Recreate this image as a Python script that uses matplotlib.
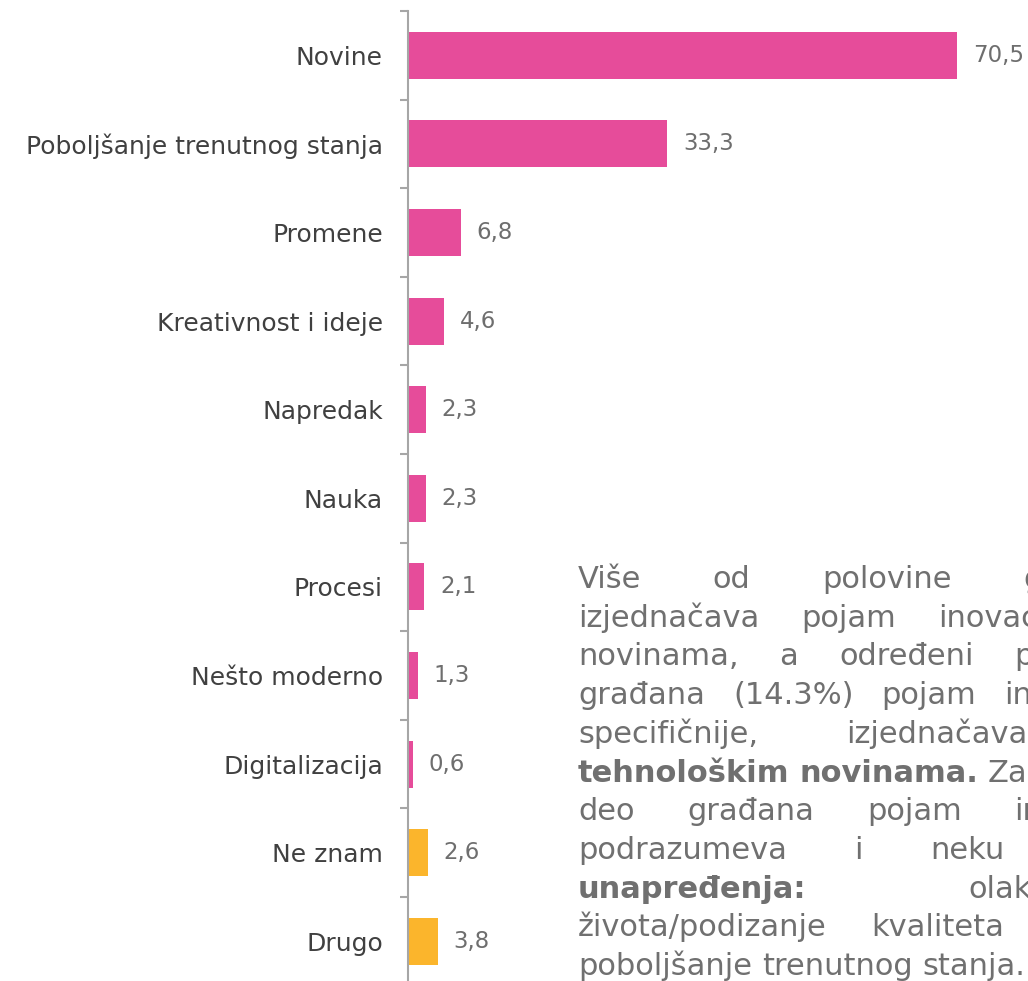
import matplotlib
matplotlib.use('Agg')
import matplotlib.pyplot as plt

# ---------- data ----------
categories = ['Novine', 'Poboljšanje trenutnog stanja', 'Promene', 'Kreativnost i ideje',
              'Napredak', 'Nauka', 'Procesi', 'Nešto moderno', 'Digitalizacija',
              'Ne znam', 'Drugo']
values = [70.5, 33.3, 6.8, 4.6, 2.3, 2.3, 2.1, 1.3, 0.6, 2.6, 3.8]
groups = ['a', 'a', 'a', 'a', 'a', 'a', 'a', 'a', 'a', 'b', 'b']

PINK, ORANGE = '#E64C9A', '#FBB52C'
AXGRAY = '#A6A6A6'
LABEL = '#404040'
VALC = '#6E6E6E'
PARC = '#707070'

# paragraph, one list per line, (word, bold)
par_lines = [
    [('Više', 0), ('od', 0), ('polovine', 0), ('građana', 0)],
    [('izjednačava', 0), ('pojam', 0), ('inovacije', 0), ('sa', 0)],
    [('novinama,', 0), ('a', 0), ('određeni', 0), ('procenat', 0)],
    [('građana', 0), ('(14.3%)', 0), ('pojam', 0), ('inovacije,', 0)],
    [('specifičnije,', 0), ('izjednačava', 0), ('sa', 0)],
    [('tehnološkim', 1), ('novinama.', 1), ('Za', 0), ('određeni', 0)],
    [('deo', 0), ('građana', 0), ('pojam', 0), ('inovacije', 0)],
    [('podrazumeva', 0), ('i', 0), ('neku', 0), ('vrstu', 0)],
    [('unapređenja:', 1), ('olakšavanje', 0)],
    [('života/podizanje', 0), ('kvaliteta', 0), ('života,', 0)],
    [('poboljšanje', 0), ('trenutnog', 0), ('stanja.', 0)],
]

W, H = 1028, 981
fig = plt.figure(figsize=(W / 100, H / 100), dpi=100)
plt.rcParams['font.family'] = 'DejaVu Sans'

x_axis = 408
px_per_unit = 7.79
ax = fig.add_axes([x_axis / W, 1 - 985.6 / H, (W - x_axis) / W, (985.6 - 11) / H])

ypos = list(range(len(categories)))
colors = [PINK if g == 'a' else ORANGE for g in groups]
ax.barh(ypos, values, height=0.53, color=colors)
for y, v in zip(ypos, values):
    ax.text(v + 2.0, y, f'{v:.1f}'.replace('.', ','), va='center', ha='left',
            fontsize=16.5, color=VALC)

ax.set_xlim(0, (W - x_axis) / px_per_unit)
ax.set_ylim(len(categories) - 0.5, -0.5)
ax.set_yticks(ypos)
ax.set_yticklabels(categories, fontsize=18, color=LABEL)
ax.set_yticks([i - 0.5 for i in range(len(categories) + 1)], minor=True)
ax.tick_params(axis='y', which='major', length=0, pad=18)
ax.tick_params(axis='y', which='minor', length=5.5, width=1.5, color=AXGRAY)
ax.set_xticks([])
for s in ['top', 'right', 'bottom']:
    ax.spines[s].set_visible(False)
ax.spines['left'].set_color(AXGRAY)
ax.spines['left'].set_linewidth(1.5)

# ---------- justified paragraph ----------
x0, x_right = 578, 1150
y_base, line_step = 588, 38.7
fs = 22
space = 0.32 * fs * 100 / 72
renderer = fig.canvas.get_renderer()
for i, line in enumerate(par_lines):
    yb = 1 - (y_base + i * line_step) / H
    texts = []
    for word, bold in line:
        t = fig.text(0, yb, word, fontsize=fs, color=PARC, va='baseline', ha='left',
                     fontweight='bold' if bold else 'normal')
        texts.append(t)
    widths = [t.get_window_extent(renderer).width for t in texts]
    last = i == len(par_lines) - 1
    if last or len(texts) == 1:
        gap = space
    else:
        gap = max(space, (x_right - x0 - sum(widths)) / (len(texts) - 1))
    x = x0
    for t, w in zip(texts, widths):
        t.set_x(x / W)
        x += w + gap

fig.savefig('out.png', dpi=100)
